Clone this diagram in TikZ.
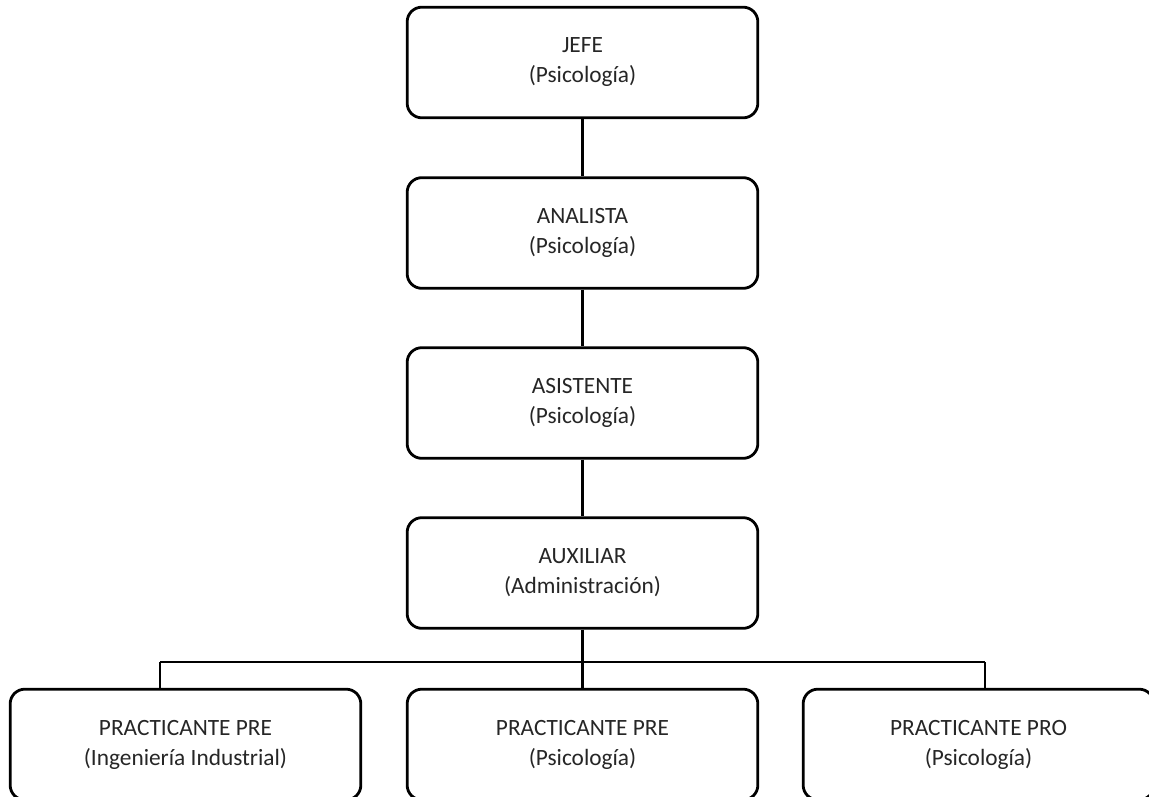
\documentclass[tikz,border=0pt]{standalone}
\usepackage{fontspec}
\setmainfont{Carlito}
\begin{document}
\begin{tikzpicture}[x=0.75pt,y=-0.75pt,
  orgbox/.style={draw=black, line width=2.1pt, rounded corners=11pt, fill=white,
    minimum width=263pt, minimum height=83pt, align=center,
    font=\fontsize{17.5}{22.5}\selectfont, text=black!85, inner sep=0pt},
  conn/.style={draw=black, line width=2.1pt}]
\clip (0,0) rectangle (1149,796);
\fill[white] (0,0) rectangle (1149,796);
\node[orgbox] (jefe) at (582.5,62.5) {JEFE\\(Psicología)};
\node[orgbox] (analista) at (582.5,233) {ANALISTA\\(Psicología)};
\node[orgbox] (asistente) at (582.5,403) {ASISTENTE\\(Psicología)};
\node[orgbox] (auxiliar) at (582.5,573) {AUXILIAR\\(Administración)};
\node[orgbox] (p1) at (185.5,744.5) {PRACTICANTE PRE\\(Ingeniería Industrial)};
\node[orgbox] (p2) at (582.5,744.5) {PRACTICANTE PRE\\(Psicología)};
\node[orgbox] (p3) at (978.5,744.5) {PRACTICANTE PRO\\(Psicología)};
\coordinate (busL) at (160,662);
\coordinate (busR) at (985,662);
\draw[conn] (jefe) -- (analista);
\draw[conn] (analista) -- (asistente);
\draw[conn] (asistente) -- (auxiliar);
\draw[conn] (auxiliar) -- (p2);
\draw[conn] (busL) -- (busR);
\draw[conn] (busL) -- (busL |- p1.north);
\draw[conn] (busR) -- (busR |- p3.north);
\end{tikzpicture}
\end{document}
